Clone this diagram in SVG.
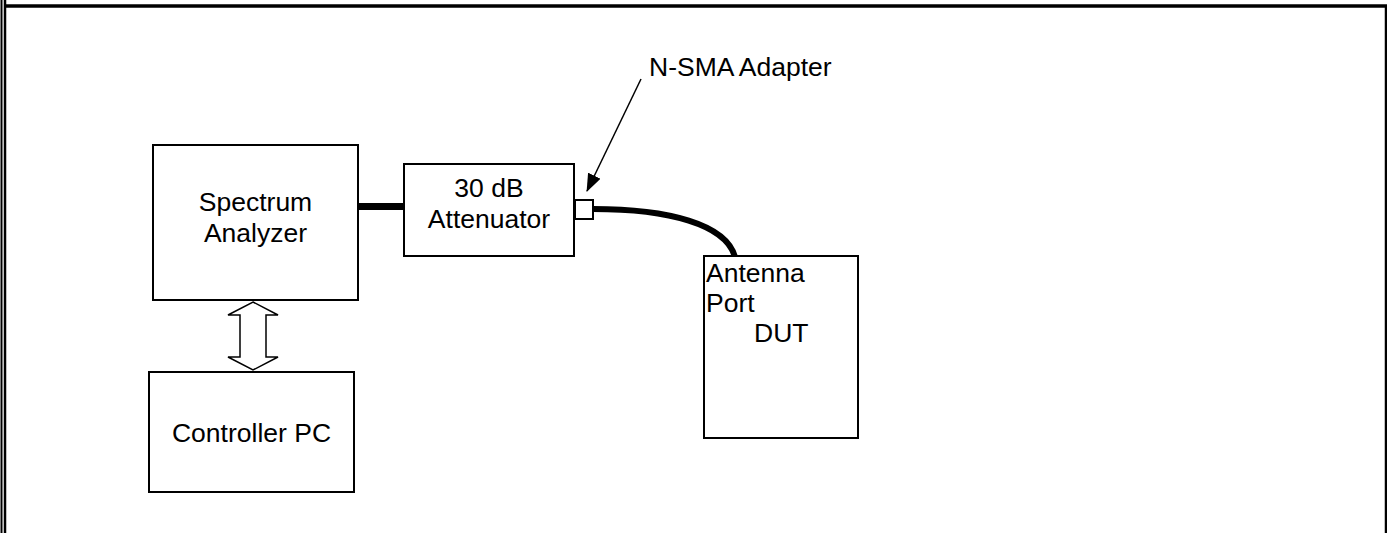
<svg xmlns="http://www.w3.org/2000/svg" width="1387" height="533" viewBox="0 0 1387 533">
<style>
.box{fill:#fff;stroke:#000;stroke-width:2}
.t{font-family:"Liberation Sans",Arial,sans-serif;font-size:26.5px;fill:#000}
.c{text-anchor:middle}
.cable{fill:none;stroke:#000;stroke-linecap:butt}
</style>
<defs>
<marker id="ah" markerWidth="18" markerHeight="14" refX="17" refY="7" orient="auto" markerUnits="userSpaceOnUse">
<path d="M0,0 L18,7 L0,14 Z" fill="#000"/>
</marker>
</defs>
<rect width="1387" height="533" fill="#fff"/>
<g id="frame" stroke="#000" fill="none">
<line x1="1.5" y1="0" x2="1.5" y2="533" stroke-width="2"/>
<line x1="5" y1="0" x2="5" y2="533" stroke-width="2.5"/>
<line x1="6" y1="6" x2="1387" y2="6" stroke-width="3.5"/>
<line x1="1386" y1="5" x2="1386" y2="533" stroke-width="2.5"/>
</g>
<g id="connectors">
<line class="cable" x1="358" y1="206.5" x2="404" y2="206.5" stroke-width="7"/>
<path class="cable" d="M593,209 C668,209 726,224 735,257" stroke-width="6"/>
<polygon points="253,302 278,315 266,315 266,357 278,357 253,370 228,357 240,357 240,315 228,315" fill="#fff" stroke="#000" stroke-width="1.5"/>
<line x1="641" y1="79" x2="587" y2="191" stroke="#000" stroke-width="1.5" marker-end="url(#ah)"/>
</g>
<g id="spectrum-analyzer">
<rect class="box" x="153" y="145" width="205" height="155"/>
<text class="t c" x="255.5" y="211">Spectrum</text>
<text class="t c" x="255.5" y="242">Analyzer</text>
</g>
<g id="controller-pc">
<rect class="box" x="149" y="372" width="205" height="120"/>
<text class="t c" x="251.5" y="442">Controller PC</text>
</g>
<g id="attenuator">
<rect class="box" x="404" y="164" width="170" height="92"/>
<text class="t c" x="489" y="197">30 dB</text>
<text class="t c" x="489" y="228">Attenuator</text>
</g>
<g id="adapter">
<rect class="box" x="575" y="200" width="18" height="19" stroke-width="1.5"/>
<text class="t" x="649" y="76">N-SMA Adapter</text>
</g>
<g id="dut">
<rect class="box" x="704" y="256" width="154" height="182"/>
<text class="t" x="706" y="282">Antenna</text>
<text class="t" x="706" y="312">Port</text>
<text class="t" x="754" y="342">DUT</text>
</g>
</svg>
